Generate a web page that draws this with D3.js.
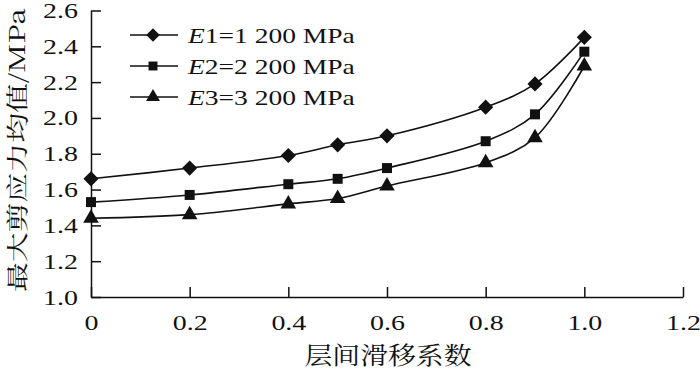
<!DOCTYPE html>
<html>
<head>
<meta charset="utf-8">
<script src="https://cdn.jsdelivr.net/npm/d3@7"></script>
<style>
  body { margin: 0; background: #fff; }
  text { font-family: "Liberation Serif", "Times New Roman", serif; fill: #111; }
  .cjk { font-family: "Noto Serif CJK SC", "Noto Sans CJK SC", serif; }
</style>
</head>
<body>
<div id="chart"></div>
<script>
// data
const slipValues = [0, 0.2, 0.4, 0.5, 0.6, 0.8, 0.9, 1.0];
const e1Values = [1.66, 1.72, 1.79, 1.85, 1.90, 2.06, 2.19, 2.45];
const e2Values = [1.53, 1.57, 1.63, 1.66, 1.72, 1.87, 2.02, 2.37];
const e3Values = [1.44, 1.46, 1.52, 1.55, 1.62, 1.75, 1.89, 2.29];
const seriesNames = ['1=1 200 MPa', '2=2 200 MPa', '3=3 200 MPa'];
const seriesSymbols = ['diamond', 'square', 'triangle'];
const xTicks = [0, 0.2, 0.4, 0.6, 0.8, 1.0, 1.2];
const yTicks = [1.0, 1.2, 1.4, 1.6, 1.8, 2.0, 2.2, 2.4, 2.6];
const xTitle = '层间滑移系数';
const yTitle = '最大剪应力均值/MPa';

const width = 700, height = 378;
const ink = '#111';

const xScale = d3.scaleLinear().domain([0, 1.2]).range([91, 683]);
const yScale = d3.scaleLinear().domain([1.0, 2.6]).range([297, 10.5]);

const svg = d3.select('#chart').append('svg')
    .attr('width', width)
    .attr('height', height);

// the picture is stretched sideways, so widen text to match
function stretch(sel, k) {
    sel.each(function() {
        const len = this.getComputedTextLength();
        d3.select(this).attr('textLength', len * k).attr('lengthAdjust', 'spacingAndGlyphs');
    });
}

const xAxis = svg.append('g')
    .attr('transform', 'translate(0,' + yScale(1.0) + ')')
    .call(d3.axisBottom(xScale).tickValues(xTicks)
        .tickFormat(d => d === 0 ? '0' : d3.format('.1f')(d))
        .tickSizeInner(-10).tickSizeOuter(0).tickPadding(17));

const yAxis = svg.append('g')
    .attr('transform', 'translate(' + xScale(0) + ',0)')
    .call(d3.axisLeft(yScale).tickValues(yTicks)
        .tickFormat(d3.format('.1f'))
        .tickSizeInner(-10).tickSizeOuter(0).tickPadding(13));

svg.selectAll('.domain, .tick line').attr('stroke', ink).attr('stroke-width', 1.5);
svg.selectAll('.tick text').attr('font-size', 22).attr('font-family', '"Liberation Serif", serif').attr('fill', ink);
stretch(svg.selectAll('.tick text'), 1.27);

// diamond = square turned 45 degrees
const symbolTypes = {
    diamond: d3.symbolSquare,
    square: d3.symbolSquare,
    triangle: d3.symbolTriangle
};
const symbolSizes = { diamond: 115, square: 100, triangle: 105 };
const symbolTurn = { diamond: 45, square: 0, triangle: 0 };

const series = [e1Values, e2Values, e3Values];

const line = d3.line()
    .x((d, i) => xScale(slipValues[i]))
    .y(d => yScale(d))
    .curve(d3.curveCatmullRom.alpha(0.5));

series.forEach(function(vals, s) {
    const sym = seriesSymbols[s];
    svg.append('path')
        .datum(vals)
        .attr('fill', 'none')
        .attr('stroke', ink)
        .attr('stroke-width', 1.6)
        .attr('d', line);

    svg.append('g').selectAll('path')
        .data(vals)
        .join('path')
        .attr('transform', (d, i) => 'translate(' + xScale(slipValues[i]) + ',' + yScale(d) + ') rotate(' + symbolTurn[sym] + ')')
        .attr('d', d3.symbol().type(symbolTypes[sym]).size(symbolSizes[sym]))
        .attr('fill', ink);
});

// legend
const legend = svg.append('g');
seriesNames.forEach(function(name, i) {
    const y = 35 + i * 31;
    const sym = seriesSymbols[i];
    legend.append('line')
        .attr('x1', 130).attr('x2', 178)
        .attr('y1', y).attr('y2', y)
        .attr('stroke', ink).attr('stroke-width', 1.6);
    legend.append('path')
        .attr('transform', 'translate(153,' + y + ') rotate(' + symbolTurn[sym] + ')')
        .attr('d', d3.symbol().type(symbolTypes[sym]).size(symbolSizes[sym] * 0.8))
        .attr('fill', ink);
    const t = legend.append('text')
        .attr('x', 188).attr('y', y + 8)
        .attr('font-size', 22);
    t.append('tspan').attr('font-style', 'italic').text('E');
    t.append('tspan').text(name);
    stretch(t, 1.25);
});

// axis titles
svg.append('text')
    .attr('class', 'cjk')
    .attr('x', 388).attr('y', 364)
    .attr('text-anchor', 'middle')
    .attr('font-size', 24)
    .attr('textLength', 167)
    .attr('lengthAdjust', 'spacingAndGlyphs')
    .text(xTitle);

svg.append('text')
    .attr('class', 'cjk')
    .attr('transform', 'translate(25,150) rotate(-90)')
    .attr('text-anchor', 'middle')
    .attr('font-size', 22)
    .attr('textLength', 284)
    .attr('lengthAdjust', 'spacingAndGlyphs')
    .text(yTitle);
</script>
</body>
</html>
